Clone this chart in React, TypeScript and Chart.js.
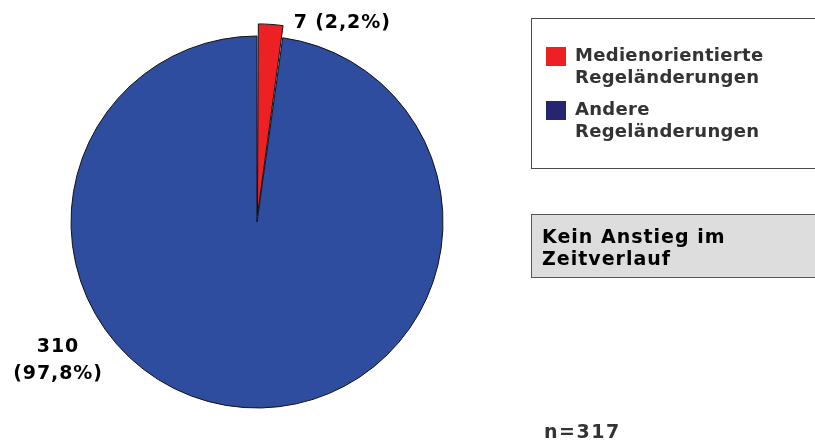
import React, { useEffect, useRef } from "react";
import { Chart, registerables } from "chart.js";

Chart.register(...registerables);

const categories = ["Medienorientierte Regeländerungen", "Andere Regeländerungen"];
const legendLines = [
  ["Medienorientierte", "Regeländerungen"],
  ["Andere", "Regeländerungen"],
];
const values = [7, 310];
const percentLabels = ["2,2%", "97,8%"];
const sliceColors = ["#ED2024", "#2E4D9E"];
const legendColors = ["#ED2024", "#262670"];
const sliceOffsets = [26, 0];
const noteLines = ["Kein Anstieg im", "Zeitverlauf"];
const sampleText = "n=317";

const FONT = '"DejaVu Sans", Verdana, sans-serif';

const overlayPlugin = {
  id: "overlay",
  afterDraw(chart: any) {
    const ctx = chart.ctx as CanvasRenderingContext2D;
    const meta = chart.getDatasetMeta(0);
    const arcs = meta.data as any[];
    ctx.save();

    // Pie labels
    const red = arcs[0];
    const blue = arcs[1];
    const cx = red.x;
    const cy = red.y;
    const r = red.outerRadius;
    const ea = red.endAngle;
    const mid = (red.startAngle + red.endAngle) / 2;
    const off = sliceOffsets[0] / 2;
    const px = cx + Math.cos(ea) * r + Math.cos(mid) * off;
    const py = cy + Math.sin(ea) * r + Math.sin(mid) * off;
    ctx.fillStyle = "#000";
    ctx.font = `bold 19px ${FONT}`;
    ctx.textAlign = "left";
    ctx.textBaseline = "alphabetic";
    (ctx as any).letterSpacing = "0.9px";
    ctx.fillText(`${values[0]} (${percentLabels[0]})`, px + 10, py + 3);

    ctx.textAlign = "center";
    const bx = blue.x - r * 1.07;
    const by = blue.y + r * 0.7;
    ctx.fillText(`${values[1]}`, bx, by);
    ctx.fillText(`(${percentLabels[1]})`, bx, by + 27);

    // Legend box
    ctx.lineWidth = 1;
    ctx.strokeStyle = "#4a4a4a";
    ctx.fillStyle = "#ffffff";
    ctx.fillRect(531, 18, 300, 151);
    ctx.strokeRect(531.5, 18.5, 300, 150);
    ctx.font = `bold 18px ${FONT}`;
    (ctx as any).letterSpacing = "0.3px";
    ctx.textAlign = "left";
    legendLines.forEach((lines, i) => {
      const top = 47 + i * 54;
      ctx.fillStyle = legendColors[i];
      ctx.fillRect(546, top, 20, 19);
      ctx.fillStyle = "#333333";
      lines.forEach((t, j) => {
        ctx.fillText(t, 575, top + 14 + j * 22);
      });
    });

    // Note box
    ctx.fillStyle = "#DDDDDD";
    ctx.fillRect(531, 214, 300, 64);
    ctx.strokeStyle = "#555555";
    ctx.strokeRect(531.5, 214.5, 300, 63);
    ctx.fillStyle = "#000000";
    ctx.font = `bold 19px ${FONT}`;
    (ctx as any).letterSpacing = "1px";
    noteLines.forEach((t, j) => {
      ctx.fillText(t, 542, 243 + j * 22);
    });

    // sample size
    ctx.fillStyle = "#333333";
    (ctx as any).letterSpacing = "1.5px";
    ctx.fillText(sampleText, 544, 438);

    ctx.restore();
  },
};

export default function App() {
  const canvasRef = useRef<HTMLCanvasElement | null>(null);

  useEffect(() => {
    document.body.style.margin = "0";
    const canvas = canvasRef.current;
    if (!canvas) return;
    const chart = new Chart(canvas, {
      type: "pie",
      data: {
        labels: categories,
        datasets: [
          {
            data: values,
            backgroundColor: sliceColors,
            borderColor: "#111111",
            borderWidth: 1,
            offset: sliceOffsets,
            hoverOffset: 0,
          } as any,
        ],
      },
      options: {
        animation: false,
        responsive: false,
        devicePixelRatio: 1,
        radius: 186,
        layout: { padding: { left: 0, right: 301, top: 2, bottom: 0 } },
        plugins: {
          legend: { display: false },
          tooltip: { enabled: false },
        },
        events: [],
      } as any,
      plugins: [overlayPlugin],
    });
    return () => chart.destroy();
  }, []);

  return (
    <div style={{ position: "fixed", left: 0, top: 0, width: 815, height: 442, background: "#fff" }}>
      <canvas ref={canvasRef} width={815} height={442} style={{ width: 815, height: 442 }} />
    </div>
  );
}
